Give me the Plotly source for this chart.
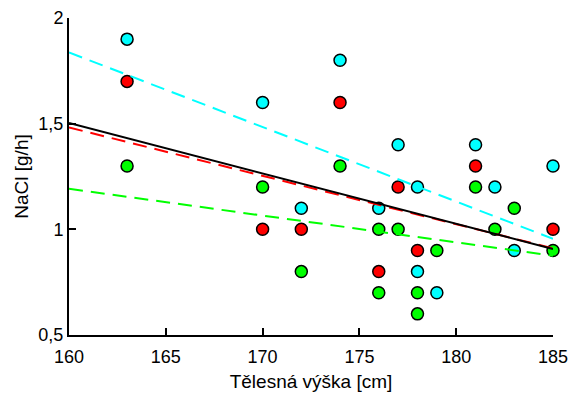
import plotly.graph_objects as go

# Data
cyan_x = [163, 170, 172, 174, 176, 177, 178, 178, 179, 181, 182, 183, 185]
cyan_y = [1.9, 1.6, 1.1, 1.8, 1.1, 1.4, 1.2, 0.8, 0.7, 1.4, 1.2, 0.9, 1.3]
red_x = [163, 170, 172, 174, 176, 177, 178, 181, 185]
red_y = [1.7, 1.0, 1.0, 1.6, 0.8, 1.2, 0.9, 1.3, 1.0]
green_x = [163, 170, 172, 174, 176, 176, 177, 178, 178, 179, 181, 182, 183, 185]
green_y = [1.3, 1.2, 0.8, 1.3, 1.0, 0.7, 1.0, 0.7, 0.6, 0.9, 1.2, 1.0, 1.1, 0.9]

# Regression lines (end values at x = 160 and 185)
fit_x = [160, 185]
cyan_fit = [1.837, 0.955]
red_fit = [1.482, 0.91]
green_fit = [1.192, 0.875]
all_fit = [1.503, 0.907]

x_ticks = [160, 165, 170, 175, 180, 185]
y_ticks = [0.5, 1.0, 1.5, 2.0]
y_tick_text = ["0,5", "1", "1,5", "2"]

fig = go.Figure()

def add_points(xs, ys, color):
    fig.add_trace(go.Scatter(
        x=xs, y=ys, mode="markers",
        marker=dict(size=12, color=color, line=dict(color="black", width=1.5)),
        cliponaxis=False, showlegend=False, hoverinfo="skip"))

def add_fit(ys, color, dash):
    fig.add_trace(go.Scatter(
        x=fit_x, y=ys, mode="lines",
        line=dict(color=color, width=2, dash=dash),
        showlegend=False, hoverinfo="skip"))

add_points(cyan_x, cyan_y, "#00ffff")
add_points(red_x, red_y, "#ff0000")
add_points(green_x, green_y, "#00ff00")

add_fit(cyan_fit, "#00ffff", "14px,8px")
add_fit(red_fit, "#ff0000", "14px,8px")
add_fit(green_fit, "#00ff00", "14px,8px")
add_fit(all_fit, "black", "solid")

fig.update_layout(
    width=571, height=396,
    margin=dict(l=69, r=18, t=18, b=61, autoexpand=False),
    paper_bgcolor="white", plot_bgcolor="white",
    font=dict(family="Liberation Sans, Arial, sans-serif", color="black", size=18),
    xaxis=dict(
        range=[160, 185], tickvals=x_ticks, ticktext=[str(v) for v in x_ticks],
        ticks="inside", ticklen=7, tickwidth=1.5, tickcolor="black",
        showline=True, linecolor="black", linewidth=2, mirror=False,
        showgrid=False, zeroline=False, automargin=False,
        tickfont=dict(size=18), ticklabelstandoff=4,
        title=dict(text="Tělesná výška [cm]", font=dict(size=19), standoff=9),
    ),
    yaxis=dict(
        range=[0.5, 2.0], tickvals=y_ticks, ticktext=y_tick_text,
        ticks="inside", ticklen=7, tickwidth=1.5, tickcolor="black",
        showline=True, linecolor="black", linewidth=2, mirror=False,
        showgrid=False, zeroline=False, automargin=False,
        tickfont=dict(size=18),
        title=dict(text="NaCl [g/h]", font=dict(size=19), standoff=5),
    ),
)

fig.write_html("out.html")
